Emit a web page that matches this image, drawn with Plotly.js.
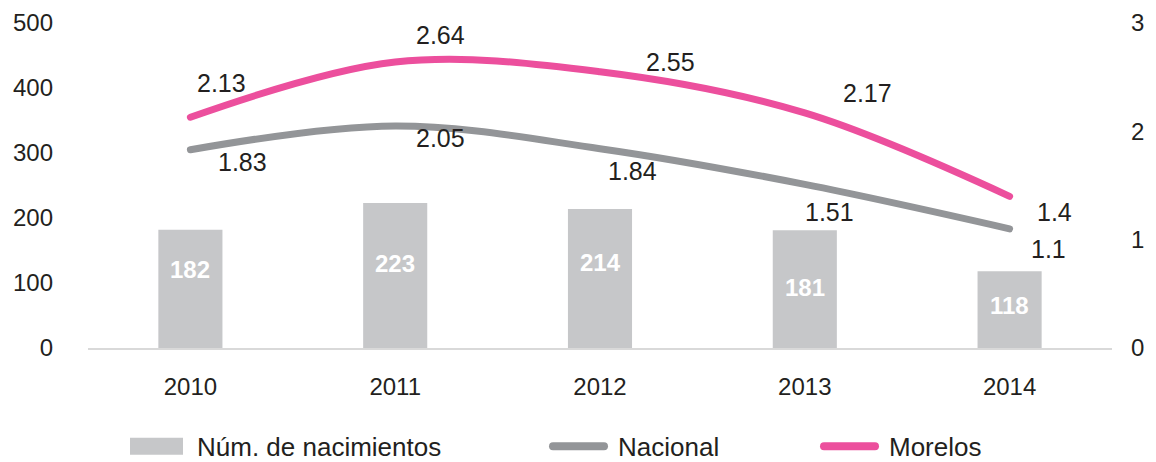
<!DOCTYPE html>
<html>
<head>
<meta charset="utf-8">
<script src="https://cdn.plot.ly/plotly-3.0.1.min.js"></script>
<style>
html,body{margin:0;padding:0;background:#fff;}
#chart{width:1156px;height:462px;}
#chart .scatterlayer .js-line{stroke-linecap:round;}
#chart .legendlines path{stroke-linecap:round;stroke-width:8px !important;d:path("M5,0h51");}
#chart g.legend .legendpoints path{d:path("M-32,-8.5H21V8.5H-32Z");}
</style>
</head>
<body>
<div id="chart"></div>
<script>
// ---- data ----
const years = ["2010", "2011", "2012", "2013", "2014"];
const nacimientos = [182, 223, 214, 181, 118];
const nacional = [1.83, 2.05, 1.84, 1.51, 1.1];
const morelos = [2.13, 2.64, 2.55, 2.17, 1.4];
const leftTicks = [0, 100, 200, 300, 400, 500];
const rightTicks = [0, 1, 2, 3];

// ---- label offsets (style only, px) ----
const morelosShift = [[31, 34], [45, 27], [70, 10], [63, 20], [45, -16]];
const nacionalShift = [[52, -12], [45, -12], [32, -22], [25, -28], [39, -20]];
const barLabelShift = [19, 12, 16, 2, 4];

const FONT = "Liberation Sans, Arial, sans-serif";
const TXT = "#231f20";

const traces = [
  {
    type: "bar", name: "Núm. de nacimientos", x: years, y: nacimientos,
    marker: {color: "#c6c7c9"},
    legend: "legend", hoverinfo: "skip"
  },
  {
    type: "scatter", mode: "lines", name: "Nacional", x: years, y: nacional, yaxis: "y2",
    line: {color: "#939598", width: 7, shape: "spline", smoothing: 1},
    legend: "legend2"
  },
  {
    type: "scatter", mode: "lines", name: "Morelos", x: years, y: morelos, yaxis: "y2",
    line: {color: "#ec4f9d", width: 7, shape: "spline", smoothing: 1},
    legend: "legend3"
  }
];

const annotations = [];
years.forEach((yr, i) => {
  annotations.push({x: i, xref: "x", y: nacimientos[i] / 2, yref: "y", text: String(nacimientos[i]), showarrow: false,
    yshift: barLabelShift[i], font: {family: FONT, size: 24, color: "#ffffff", weight: "bold"}});
  annotations.push({x: i, xref: "x", y: morelos[i], yref: "y2", text: String(morelos[i]), showarrow: false,
    xshift: morelosShift[i][0], yshift: morelosShift[i][1], font: {family: FONT, size: 25, color: TXT}});
  annotations.push({x: i, xref: "x", y: nacional[i], yref: "y2", text: String(nacional[i]), showarrow: false,
    xshift: nacionalShift[i][0], yshift: nacionalShift[i][1], font: {family: FONT, size: 25, color: TXT}});
});

const legendBase = {orientation: "h", yref: "container", xref: "container", yanchor: "middle", y: 0.034,
  xanchor: "left", font: {family: FONT, size: 26, color: TXT}, bgcolor: "rgba(0,0,0,0)", itemwidth: 60};

const layout = {
  width: 1156, height: 462,
  margin: {l: 88, r: 44, t: 23, b: 114},
  paper_bgcolor: "#ffffff", plot_bgcolor: "#ffffff",
  font: {family: FONT, size: 24, color: TXT},
  bargap: 0.687,
  showlegend: true,
  legend: Object.assign({}, legendBase, {x: 127 / 1156}),
  legend2: Object.assign({}, legendBase, {x: 548 / 1156}),
  legend3: Object.assign({}, legendBase, {x: 819 / 1156}),
  xaxis: {
    type: "category", range: [-0.5, 4.5], showgrid: false, zeroline: false,
    showline: true, linecolor: "#d9d9d9", linewidth: 2,
    ticks: "", ticklabelstandoff: 16, tickfont: {family: FONT, size: 24, color: TXT}
  },
  yaxis: {
    range: [0, 500], tickvals: leftTicks, showgrid: false, zeroline: false, showline: false,
    ticks: "", ticklabelstandoff: 34, tickfont: {family: FONT, size: 24, color: TXT}
  },
  yaxis2: {
    range: [0, 3], tickvals: rightTicks, overlaying: "y", side: "right",
    showgrid: false, zeroline: false, showline: false,
    ticks: "", ticklabelstandoff: 18, tickfont: {family: FONT, size: 24, color: TXT}
  },
  annotations: annotations
};

Plotly.newPlot("chart", traces, layout, {displayModeBar: false, staticPlot: true});
</script>
</body>
</html>
